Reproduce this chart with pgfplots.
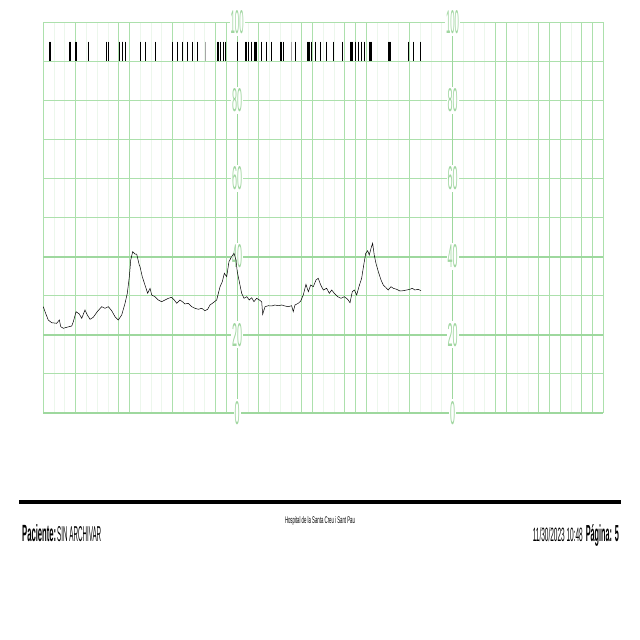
\documentclass[border=0pt]{standalone}
\usepackage{pgfplots}
\pgfplotsset{compat=1.18}
\usepackage{fontspec}
\setmainfont{Liberation Sans}
\definecolor{gridstrong}{RGB}{158,216,158}
\definecolor{gridfaint}{RGB}{236,247,236}
\definecolor{gridmid}{RGB}{172,224,172}
\definecolor{lbl}{RGB}{160,214,160}
\newcommand{\lab}[4]{\node[fill=white, inner xsep=1pt, inner ysep=2pt, text=lbl] at (axis cs:#1,#2) {\resizebox{#4pt}{23pt}{#3}};}
\begin{document}
\begin{tikzpicture}[x=1pt,y=1pt]
\path[use as bounding box] (0,0) rectangle (640,640);
\begin{axis}[at={(43.3pt,227pt)}, anchor=south west, scale only axis,
  width=560pt, height=391pt, xmin=0, xmax=52, ymin=0, ymax=100,
  axis line style={draw=none}, tick style={draw=none}, major tick length=0pt, minor tick length=0pt,
  xticklabels={}, yticklabels={}, clip=false,
  xtick={0,3,7,8,12,16,17,20,24,25,28,29,30,34,42,43,46,47,48,50,51,52},
  minor xtick={1,2,4,5,6,9,10,11,13,14,15,19,21,22,23,26,27,31,32,33,35,36,37,39,40,41,44,45,49},
  ytick={10,30,50,60,70,80,90,100}, minor ytick={},
  xmajorgrids, xminorgrids, ymajorgrids,
  major grid style={gridmid, line width=0.9pt},
  minor grid style={gridfaint, line width=0.8pt},
  extra x ticks={18,38}, extra x tick labels={},
  extra x tick style={major grid style={gridstrong, line width=1pt}},
  extra y ticks={0,20,40}, extra y tick labels={},
  extra y tick style={major grid style={gridstrong, line width=2pt}},
]
\lab{18}{100}{100}{13}
\lab{18}{80}{80}{10}
\lab{18}{60}{60}{10}
\lab{18}{40}{40}{10}
\lab{18}{20}{20}{10}
\lab{18}{0}{0}{5}
\lab{38}{100}{100}{13}
\lab{38}{80}{80}{10}
\lab{38}{60}{60}{10}
\lab{38}{40}{40}{10}
\lab{38}{20}{20}{10}
\lab{38}{0}{0}{5}
% fetal movement marks
\addplot[only marks, mark=|, mark size=9.8pt, mark options={line width=1pt, black}] coordinates {
(0.53,92.5)(0.69,92.5)(2.41,92.5)(2.57,92.5)(2.97,92.5)(3.06,92.5)(4.24,92.5)
(5.89,92.5)(6.04,92.5)(7.12,92.5)(7.34,92.5)(7.40,92.5)(7.61,92.5)
(8.98,92.5)(9.49,92.5)(10.42,92.5)
(11.98,92.5)(12.48,92.5)(12.91,92.5)(13.41,92.5)(13.90,92.5)(14.34,92.5)
(16.16,92.5)(16.31,92.5)(16.50,92.5)(16.71,92.5)(16.96,92.5)
(18.05,92.5)(18.73,92.5)(18.89,92.5)(19.10,92.5)(19.29,92.5)(19.59,92.5)(19.70,92.5)(19.81,92.5)
(20.28,92.5)(20.74,92.5)(21.21,92.5)(21.98,92.5)(22.13,92.5)(22.28,92.5)
(23.46,92.5)(24.51,92.5)(24.64,92.5)(24.76,92.5)(24.92,92.5)(25.32,92.5)(25.76,92.5)(26.31,92.5)(26.99,92.5)
(27.80,92.5)(28.48,92.5)(28.60,92.5)(28.73,92.5)(29.01,92.5)(29.25,92.5)(29.56,92.5)(29.87,92.5)
(30.27,92.5)(30.38,92.5)(30.49,92.5)(32.03,92.5)(32.15,92.5)(32.26,92.5)
(33.90,92.5)(34.35,92.5)(35.00,92.5)
};
\addplot[only marks, mark=|, mark size=9.8pt, mark options={line width=0.8pt, black!35}] coordinates {
(15.01,92.5)(23.06,92.5)
};
% tocograph trace
\addplot[black, line width=0.5pt] coordinates {
(0.00,27.19)(0.16,25.91)(0.46,23.78)(0.78,23.09)(1.24,22.94)(1.49,23.78)(1.62,22.07)
(1.86,21.66)(2.17,21.92)(2.64,22.25)(2.79,23.35)(3.04,25.91)(3.34,25.32)(3.57,24.22)
(3.87,26.34)(4.09,25.06)(4.34,23.96)(4.64,24.48)(5.01,25.91)(5.42,27.19)(5.73,26.78)
(6.04,27.19)(6.35,26.16)(6.66,24.63)(6.96,23.78)(7.28,25.06)(7.59,28.06)(7.80,30.61)
(7.99,34.86)(8.12,39.13)(8.30,41.25)(8.51,40.66)(8.67,40.66)(8.91,37.85)(8.98,37.42)
(9.19,34.86)(9.44,32.74)(9.69,30.61)(9.91,31.89)(10.07,30.18)(10.37,29.74)(10.68,28.90)
(10.99,28.46)(11.30,28.90)(11.61,29.33)(11.92,29.59)(12.16,28.90)(12.39,28.06)(12.69,28.90)
(12.91,28.46)(13.16,27.88)(13.46,28.06)(13.78,27.19)(14.09,26.78)(14.39,26.52)(14.71,26.78)
(15.01,26.16)(15.26,26.52)(15.48,27.62)(15.78,28.21)(16.10,28.90)(16.41,32.30)(16.62,33.58)
(16.81,35.73)(17.03,34.86)(17.24,38.70)(17.49,40.00)(17.71,40.84)(17.89,39.13)(18.01,36.14)
(18.20,33.58)(18.42,30.61)(18.64,29.33)(18.89,29.74)(19.13,28.90)(19.35,29.49)(19.56,28.46)
(19.81,29.33)(20.06,28.90)(20.28,28.46)(20.37,25.24)(20.59,27.19)(20.89,27.44)(21.21,27.37)
(21.51,27.62)(21.82,27.44)(22.14,27.62)(22.44,27.37)(22.75,27.19)(23.06,27.44)(23.21,25.91)
(23.37,27.62)(23.68,28.06)(23.90,28.64)(24.14,30.18)(24.39,32.91)(24.61,31.02)(24.83,32.74)
(25.07,32.30)(25.32,34.01)(25.53,34.45)(25.76,32.74)(26.00,31.46)(26.31,31.89)(26.56,30.61)
(26.78,31.46)(27.02,30.61)(27.34,29.74)(27.64,29.33)(27.95,29.74)(28.26,29.08)(28.48,28.21)
(28.69,31.02)(28.88,31.46)(29.10,30.18)(29.31,32.30)(29.56,34.45)(29.78,38.29)(29.94,40.84)
(30.12,41.51)(30.27,40.41)(30.43,42.12)(30.58,43.40)(30.73,40.41)(30.89,38.29)(31.11,36.14)
(31.36,34.01)(31.57,32.74)(31.79,32.15)(32.03,31.46)(32.28,32.30)(32.50,31.89)(32.81,31.64)
(33.12,31.20)(33.43,31.28)(33.74,31.46)(34.05,31.64)(34.26,31.89)(34.51,31.46)(34.82,31.64)
(35.07,31.28)
};
\end{axis}
% footer
\draw[line width=3.5pt] (19,138) -- (621,138);
\node[anchor=base west, inner sep=0pt] at (22,98) {\resizebox{34pt}{17pt}{\bfseries Paciente:}};
\node[anchor=base west, inner sep=0pt] at (57,98) {\resizebox{44pt}{15pt}{SIN ARCHIVAR}};
\node[inner sep=0pt] at (320,119) {\resizebox{70pt}{7pt}{Hospital de la Santa Creu i Sant Pau}};
\node[anchor=base east, inner sep=0pt] at (583,98) {\resizebox{50pt}{14pt}{11/30/2023 10:48}};
\node[anchor=base east, inner sep=0pt] at (619,98) {\resizebox{33pt}{17pt}{\bfseries Página: 5}};
\end{tikzpicture}
\end{document}
